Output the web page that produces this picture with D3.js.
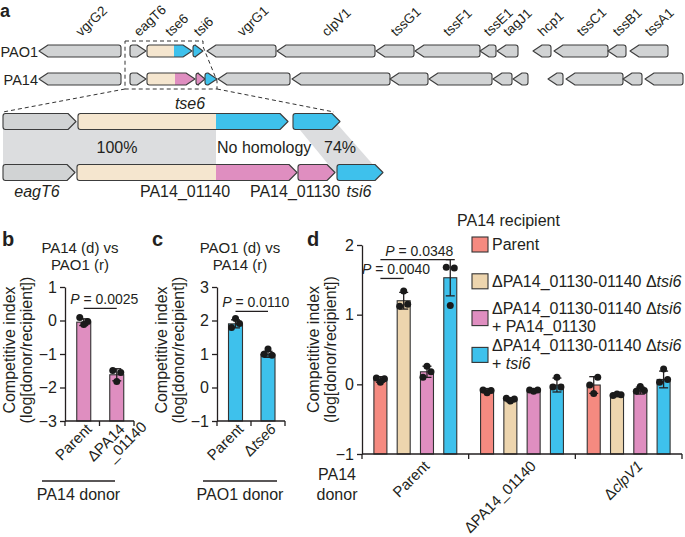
<!DOCTYPE html>
<html><head><meta charset="utf-8">
<script src="https://cdn.jsdelivr.net/npm/d3@7"></script>
<style>
body{margin:0;background:#fff}
svg{display:block;font-family:"Liberation Sans",Arial,Helvetica,sans-serif;}
</style></head><body>
<svg id="chart" width="685" height="537"></svg>
<script>
// ================= DATA =================
// Panel a: gene maps (coordinates in arbitrary kb-like units along the locus)
const pao1Genes = [
  {name:"vgrG2", start:3.9, end:12.1, strand:-1, colors:["gray"]},
  {name:"eagT6", start:13.0, end:14.6, strand:1, colors:["gray"]},
  {name:"tse6", start:14.7, end:19.2, strand:1, colors:["beige","blue"], split:17.4},
  {name:"tsi6", start:19.3, end:20.3, strand:1, colors:["blue"]},
  {name:"vgrG1", start:20.7, end:27.6, strand:-1, colors:["gray"]},
  {name:"clpV1", start:27.7, end:37.5, strand:-1, colors:["gray"]},
  {name:"tssG1", start:37.6, end:41.4, strand:-1, colors:["gray"]},
  {name:"tssF1", start:41.5, end:48.0, strand:-1, colors:["gray"]},
  {name:"tssE1", start:48.0, end:49.6, strand:-1, colors:["gray"]},
  {name:"tagJ1", start:49.7, end:51.8, strand:-1, colors:["gray"]},
  {name:"hcp1", start:53.3, end:55.1, strand:-1, colors:["gray"]},
  {name:"tssC1", start:55.4, end:60.8, strand:-1, colors:["gray"]},
  {name:"tssB1", start:60.8, end:62.6, strand:-1, colors:["gray"]},
  {name:"tssA1", start:63.0, end:66.8, strand:-1, colors:["gray"]}
];
const pa14Genes = [
  {name:"vgrG2", start:3.9, end:12.1, strand:-1, colors:["gray"]},
  {name:"eagT6", start:13.0, end:14.6, strand:1, colors:["gray"]},
  {name:"PA14_01140", start:14.7, end:19.5, strand:1, colors:["beige","pink"], split:17.5},
  {name:"PA14_01130", start:19.6, end:20.5, strand:1, colors:["pink"]},
  {name:"tsi6", start:20.5, end:21.7, strand:1, colors:["blue"]},
  {name:"vgrG1", start:21.8, end:29.0, strand:-1, colors:["gray"]},
  {name:"clpV1", start:29.2, end:39.0, strand:-1, colors:["gray"]},
  {name:"tssG1", start:39.0, end:42.8, strand:-1, colors:["gray"]},
  {name:"tssF1", start:42.9, end:49.2, strand:-1, colors:["gray"]},
  {name:"tssE1", start:49.3, end:51.2, strand:-1, colors:["gray"]},
  {name:"tagJ1", start:51.3, end:52.8, strand:-1, colors:["gray"]},
  {name:"hcp1", start:54.8, end:56.3, strand:-1, colors:["gray"]},
  {name:"tssC1", start:56.6, end:62.3, strand:-1, colors:["gray"]},
  {name:"tssB1", start:62.3, end:64.2, strand:-1, colors:["gray"]},
  {name:"tssA1", start:64.5, end:68.3, strand:-1, colors:["gray"]}
];
const strainNames = ["PAO1", "PA14"];
// expanded view of the tse6 / tsi6 region
const zoomTop = [
  {name:"eagT6", start:0.3, end:7.6, strand:1, colors:["gray"]},
  {name:"tse6", start:7.8, end:28.8, strand:1, colors:["beige","blue"], split:21.6},
  {name:"tsi6", start:29.3, end:34.0, strand:1, colors:["blue"]}
];
const zoomBottom = [
  {name:"eagT6", start:0.3, end:7.5, strand:1, colors:["gray"]},
  {name:"PA14_01140", start:7.7, end:29.7, strand:1, colors:["beige","pink"], split:21.6},
  {name:"PA14_01130", start:29.8, end:33.5, strand:1, colors:["pink"]},
  {name:"tsi6", start:33.7, end:38.3, strand:1, colors:["blue"]}
];
const homologyBlocks = [
  {top:[0.3, 21.6], bottom:[0.3, 21.6], label:"100%"},
  {top:[29.3, 33.5], bottom:[33.5, 38.0], label:"74%"}
];
const noHomologyLabel = "No homology";

// Panel b
const bTitle = ["PA14 (d) vs", "PAO1 (r)"];
const bLabels = [ [[["Parent",0]]], [[["ΔPA14",0]],[["_01140",0]]] ];
const bMeans = [-0.05, -1.62];
const bSD = [0.1, 0.18];
const bPoints = [[0.09, -0.03, -0.12], [-1.49, -1.55, -1.82]];
const bTicks = [1, 0, -1, -2, -3];
const bP = {from:0, to:1, y:0.36, label:"0.0025"};
const bDonor = "PA14 donor";

// Panel c
const cTitle = ["PAO1 (d) vs", "PA14 (r)"];
const cLabels = [ [[["Parent",0]]], [[["Δ",0],["tse6",1]]] ];
const cMeans = [1.9, 0.99];
const cSD = [0.12, 0.09];
const cPoints = [[1.79, 1.91, 2.06], [0.99, 0.96, 1.15]];
const cTicks = [3, 2, 1, 0, -1];
const cP = {from:0, to:1, y:2.27, label:"0.0110"};
const cDonor = "PAO1 donor";

// Panel d
const dGroups = [ [["Parent",0]], [["ΔPA14_01140",0]], [["Δ",0],["clpV1",1]] ];
const dSeriesNames = ["Parent", "ΔPA14_01130-01140 Δtsi6", "ΔPA14_01130-01140 Δtsi6 + PA14_01130", "ΔPA14_01130-01140 Δtsi6 + tsi6"];
// means[group][series]
const dMeans = [
  [0.07, 1.20, 0.18, 1.53],
  [-0.09, -0.22, -0.09, -0.01],
  [-0.01, -0.15, -0.09, 0.07]
];
const dSD = [
  [0.04, 0.12, 0.08, 0.26],
  [0.03, 0.03, 0.02, 0.10],
  [0.12, 0.02, 0.05, 0.12]
];
const dPoints = [
  [[0.09, 0.08, 0.03], [1.12, 1.15, 1.34], [0.10, 0.18, 0.26], [1.68, 1.67, 1.13]],
  [[-0.08, -0.09, -0.12], [-0.20, -0.21, -0.24], [-0.08, -0.08, -0.10], [-0.04, -0.04, 0.10]],
  [[-0.01, 0.10, -0.13], [-0.16, -0.15, -0.14], [-0.10, -0.09, -0.03], [0.03, 0.07, 0.22]]
];
const dTicks = [2, 1, 0, -1];
const dP = [
  {group:0, from:0, to:1, y:1.52, label:"0.0040"},
  {group:0, from:0, to:3, y:1.79, label:"0.0348"}
];
const legendTitle = "PA14 recipient";
const legendEntries = [
  [[["Parent",0]]],
  [[["ΔPA14_01130-01140 Δ",0],["tsi6",1]]],
  [[["ΔPA14_01130-01140 Δ",0],["tsi6",1]], [["+ PA14_01130",0]]],
  [[["ΔPA14_01130-01140 Δ",0],["tsi6",1]], [["+ ",0],["tsi6",1]]]
];
const dDonor = ["PA14", "donor"];
const yTitle = ["Competitive index", "(log[donor/recipient])"];

// ================= STYLE =================
const COL = {gray:"#d1d3d4", beige:"#f5e6cf", blue:"#3ec1ec", pink:"#df8ec0"};
const seriesColors = ["#f58a80", "#edd5ae", "#df8ec0", "#3ec1ec"];
const INK = "#231f20";
const svg = d3.select("#chart");

function addRich(sel, segs) {
  segs.forEach(([t, it]) => {
    sel.append("tspan").text(t).attr("font-style", it ? "italic" : "normal");
  });
}

// ================= PANEL a =================
function genePath(x0, x1, yc, h, strand, head) {
  const hl = Math.min(head, (x1 - x0) * 0.8);
  const r = 2.5;
  const t = yc - h / 2, b = yc + h / 2;
  if (strand > 0) {
    return `M${x0 + r},${t}L${x1 - hl},${t}L${x1},${yc}L${x1 - hl},${b}L${x0 + r},${b}Q${x0},${b} ${x0},${b - r}L${x0},${t + r}Q${x0},${t} ${x0 + r},${t}Z`;
  }
  return `M${x1 - r},${t}L${x0 + hl},${t}L${x0},${yc}L${x0 + hl},${b}L${x1 - r},${b}Q${x1},${b} ${x1},${b - r}L${x1},${t + r}Q${x1},${t} ${x1 - r},${t}Z`;
}
let clipId = 0;
function drawGenes(g, genes, xs, yc, h, head) {
  genes.forEach(gn => {
    const x0 = xs(gn.start), x1 = xs(gn.end);
    const p = genePath(x0, x1, yc, h, gn.strand, head);
    const id = "gclip" + (clipId++);
    g.append("clipPath").attr("id", id).append("path").attr("d", p);
    const gg = g.append("g").attr("clip-path", `url(#${id})`);
    if (gn.split !== undefined) {
      const xm = xs(gn.split);
      gg.append("rect").attr("x", x0 - 1).attr("y", yc - h).attr("width", xm - x0 + 1).attr("height", 2 * h).attr("fill", COL[gn.colors[0]]);
      gg.append("rect").attr("x", xm).attr("y", yc - h).attr("width", x1 - xm + 1).attr("height", 2 * h).attr("fill", COL[gn.colors[1]]);
    } else {
      gg.append("rect").attr("x", x0 - 1).attr("y", yc - h).attr("width", x1 - x0 + 2).attr("height", 2 * h).attr("fill", COL[gn.colors[0]]);
    }
    g.append("path").attr("d", p).attr("fill", "none").attr("stroke", "#3c3c3c").attr("stroke-width", 1.1).attr("stroke-linejoin", "round");
  });
}

const ga = svg.append("g");
const xa = d3.scaleLinear().domain([0, 68.5]).range([0, 685]);
const rowY = [51, 79];
ga.append("text").text("a").attr("x", 0).attr("y", 17).attr("font-size", 18).attr("font-weight", "bold").attr("fill", INK);
strainNames.forEach((s, i) => {
  ga.append("text").text(s).attr("x", 38).attr("y", rowY[i] + 5.5).attr("text-anchor", "end").attr("font-size", 14.5).attr("fill", INK);
});
// dashed selection box + guide lines
const xz = d3.scaleLinear().domain([0, 40]).range([0, 400]);
const boxL = xa(pao1Genes[1].start) - 5, boxR1 = xa(pao1Genes[3].end), boxR2 = xa(pa14Genes[4].end);
ga.append("path")
  .attr("d", `M${boxL},41L${boxR1},41L${boxR1},46.5L${boxR2},81L${boxR2},89L${boxL},89Z`)
  .attr("fill", "none").attr("stroke", "#333").attr("stroke-width", 1).attr("stroke-dasharray", "4,3");
ga.append("line").attr("x1", boxL).attr("y1", 89).attr("x2", xz(zoomTop[0].start)).attr("y2", 112)
  .attr("stroke", "#333").attr("stroke-dasharray", "4,3");
ga.append("line").attr("x1", boxR2).attr("y1", 89).attr("x2", xz(33.4)).attr("y2", 112)
  .attr("stroke", "#333").attr("stroke-dasharray", "4,3");

drawGenes(ga, pao1Genes, xa, rowY[0], 12, 9);
drawGenes(ga, pa14Genes, xa, rowY[1], 12, 9);
pao1Genes.forEach(gn => {
  const cx = xa((gn.start + gn.end) / 2);
  ga.append("text").text(gn.name).attr("font-size", 13.5).attr("fill", INK)
    .attr("transform", `translate(${cx + 1},37) rotate(-43)`);
});

// expanded view
const zTopY = 121.5, zBotY = 172.5, zH = 16;
homologyBlocks.forEach(b => {
  ga.append("path")
    .attr("d", `M${xz(b.top[0])},${zTopY}L${xz(b.top[1])},${zTopY}L${xz(b.bottom[1])},${zBotY}L${xz(b.bottom[0])},${zBotY}Z`)
    .attr("fill", "#dcdddf");
});
drawGenes(ga, zoomTop, xz, zTopY, zH, 8);
drawGenes(ga, zoomBottom, xz, zBotY, zH, 8);
ga.append("text").text(zoomTop[1].name).attr("x", xz(19.0)).attr("y", 109).attr("text-anchor", "middle")
  .attr("font-style", "italic").attr("font-size", 16).attr("fill", INK);
ga.append("text").text(homologyBlocks[0].label).attr("x", xz(11.7)).attr("y", 153).attr("text-anchor", "middle").attr("font-size", 16).attr("fill", INK);
ga.append("text").text(noHomologyLabel).attr("x", xz(21.7)).attr("y", 153).attr("font-size", 16).attr("fill", INK);
ga.append("text").text(homologyBlocks[1].label).attr("x", xz(34.0)).attr("y", 153).attr("text-anchor", "middle").attr("font-size", 16).attr("fill", INK);
const zLabs = [
  {t:zoomBottom[0].name, x:3.7, it:1},
  {t:zoomBottom[1].name, x:18.5, it:0},
  {t:zoomBottom[2].name, x:29.5, it:0},
  {t:zoomBottom[3].name, x:35.9, it:1}
];
zLabs.forEach(l => {
  ga.append("text").text(l.t).attr("x", xz(l.x)).attr("y", 197).attr("text-anchor", "middle")
    .attr("font-size", 16).attr("font-style", l.it ? "italic" : "normal").attr("fill", INK);
});

// ================= helpers for bar panels =================
function styleAxis(sel) {
  sel.select(".domain").attr("stroke", INK).attr("stroke-width", 1.3);
  sel.selectAll(".tick line").attr("stroke", INK).attr("stroke-width", 1.3);
  sel.selectAll(".tick text").attr("font-size", 16).attr("fill", INK).attr("font-family", '"Liberation Sans", Arial, sans-serif');
}
function yAxisTitle(g, xBase, yMid) {
  yTitle.forEach((t, i) => {
    g.append("text").text(t).attr("text-anchor", "middle").attr("font-size", 16).attr("fill", INK)
      .attr("transform", `translate(${xBase + i * 17},${yMid}) rotate(-90)`);
  });
}
function drawErr(g, cx, y, m, sd, cap) {
  g.append("line").attr("x1", cx).attr("x2", cx).attr("y1", y(m - sd)).attr("y2", y(m + sd)).attr("stroke", INK).attr("stroke-width", 1.3);
  [m - sd, m + sd].forEach(v => {
    g.append("line").attr("x1", cx - cap / 2).attr("x2", cx + cap / 2).attr("y1", y(v)).attr("y2", y(v)).attr("stroke", INK).attr("stroke-width", 1.3);
  });
}
const jitter = [-4, 4, 0];
function drawPoints(g, cx, y, pts) {
  pts.forEach((v, k) => {
    g.append("circle").attr("cx", cx + jitter[k]).attr("cy", y(v)).attr("r", 3.5).attr("fill", "#1a1a1a");
  });
}
function pAnnot(g, x1, x2, yy, label) {
  g.append("line").attr("x1", x1).attr("x2", x2).attr("y1", yy).attr("y2", yy).attr("stroke", INK).attr("stroke-width", 1.3);
  const t = g.append("text").attr("x", (x1 + x2) / 2 + 4).attr("y", yy - 4).attr("text-anchor", "middle").attr("font-size", 14).attr("fill", INK);
  addRich(t, [["P", 1], [" = " + label, 0]]);
}
function rotLabel(g, x, y, lines, fs) {
  const t = g.append("text").attr("text-anchor", "end").attr("font-size", fs).attr("fill", INK)
    .attr("transform", `translate(${x},${y}) rotate(-45)`);
  lines.forEach((ln, i) => {
    const line = t.append("tspan").attr("x", i ? 17 : 0).attr("dy", i ? 14 : 0);
    ln.forEach(([s, it]) => line.append("tspan").text(s).attr("font-style", it ? "italic" : "normal"));
  });
}

function simplePanel(o) {
  const g = svg.append("g");
  const x = d3.scaleBand().domain(o.means.map((_, i) => i)).range(o.xr);
  const y = d3.scaleLinear().domain(o.yd).range([421, 287]);
  const bw = 14;
  const cxs = o.means.map((_, i) => x(i) + x.bandwidth() / 2 + (i === 0 ? 1.5 : 0));
  o.means.forEach((m, i) => {
    g.append("rect").attr("x", cxs[i] - bw / 2).attr("width", bw).attr("y", y(m)).attr("height", y(o.yd[0]) - y(m))
      .attr("fill", o.color).attr("stroke", "#333").attr("stroke-width", 1.1);
  });
  o.means.forEach((m, i) => drawErr(g, cxs[i], y, m, o.sd[i], 9));
  o.points.forEach((p, i) => drawPoints(g, cxs[i], y, p));
  // y axis
  const ya = g.append("g").attr("transform", `translate(${o.xr[0]},0)`)
    .call(d3.axisLeft(y).tickValues(o.ticks).tickSize(5).tickPadding(3).tickSizeOuter(0).tickFormat(d3.format("d")));
  styleAxis(ya);
  // x axis with boundary ticks
  g.append("line").attr("x1", o.xr[0]).attr("x2", o.xr[1]).attr("y1", 421).attr("y2", 421).attr("stroke", INK).attr("stroke-width", 1.3);
  const bounds = o.means.map((_, i) => x(i)).concat([o.xr[1]]);
  bounds.forEach(b => g.append("line").attr("x1", b).attr("x2", b).attr("y1", 421).attr("y2", 426).attr("stroke", INK).attr("stroke-width", 1.3));
  o.labels.forEach((lines, i) => rotLabel(g, cxs[i] + 9, 430, lines, 15));
  // title
  o.title.forEach((t, i) => g.append("text").text(t).attr("x", o.titleX).attr("y", 253 + i * 16.5).attr("text-anchor", "middle").attr("font-size", 15).attr("fill", INK));
  yAxisTitle(g, o.yTitleX, 350);
  g.append("text").text(o.letter).attr("x", o.letterX).attr("y", 246).attr("font-size", 20).attr("font-weight", "bold").attr("fill", INK);
  pAnnot(g, cxs[o.p.from], cxs[o.p.to], y(o.p.y), o.p.label);
  g.append("line").attr("x1", o.donorLine[0]).attr("x2", o.donorLine[1]).attr("y1", 481).attr("y2", 481).attr("stroke", INK).attr("stroke-width", 1.3);
  g.append("text").text(o.donor).attr("x", (o.donorLine[0] + o.donorLine[1]) / 2).attr("y", 500).attr("text-anchor", "middle").attr("font-size", 16).attr("fill", INK);
}

simplePanel({letter:"b", letterX:2, title:bTitle, titleX:80, xr:[65, 134], yd:[-3, 1], ticks:bTicks,
  means:bMeans, sd:bSD, points:bPoints, color:COL.pink, labels:bLabels, p:bP, yTitleX:15,
  donor:bDonor, donorLine:[42, 115]});
simplePanel({letter:"c", letterX:152, title:cTitle, titleX:240, xr:[217, 285], yd:[-1, 3], ticks:cTicks,
  means:cMeans, sd:cSD, points:cPoints, color:COL.blue, labels:cLabels, p:cP, yTitleX:167,
  donor:cDonor, donorLine:[203, 277]});

// ================= PANEL d =================
const gd = svg.append("g");
const xd = d3.scaleBand().domain(dGroups.map((_, i) => i)).range([362, 682]);
const xin = d3.scalePoint().domain(d3.range(dSeriesNames.length)).range([0, xd.bandwidth()]).padding(0.79);
const yd = d3.scaleLinear().domain([-1, 2]).range([454, 245]);
const dbw = 13;
dMeans.forEach((grp, gi) => {
  grp.forEach((m, si) => {
    const cx = xd(gi) + xin(si);
    gd.append("rect").attr("x", cx - dbw / 2).attr("width", dbw).attr("y", yd(m)).attr("height", yd(-1) - yd(m))
      .attr("fill", seriesColors[si]).attr("stroke", "#333").attr("stroke-width", 1.1);
    drawErr(gd, cx, yd, m, dSD[gi][si], 9);
    drawPoints(gd, cx, yd, dPoints[gi][si]);
  });
});
const yaD = gd.append("g").attr("transform", "translate(362,0)")
  .call(d3.axisLeft(yd).tickValues(dTicks).tickSize(5).tickPadding(3).tickSizeOuter(0).tickFormat(d3.format("d")));
styleAxis(yaD);
gd.append("line").attr("x1", 362).attr("x2", 682).attr("y1", 454).attr("y2", 454).attr("stroke", INK).attr("stroke-width", 1.3);
dGroups.map((_, i) => xd(i)).concat([682]).forEach(b =>
  gd.append("line").attr("x1", b).attr("x2", b).attr("y1", 454).attr("y2", 459).attr("stroke", INK).attr("stroke-width", 1.3));
dGroups.forEach((lab, gi) => rotLabel(gd, xd(gi) + xd.bandwidth() / 2 + 15, 467, [lab], 15));
yAxisTitle(gd, 319, 349.5);
gd.append("text").text("d").attr("x", 307).attr("y", 246).attr("font-size", 20).attr("font-weight", "bold").attr("fill", INK);
dP.forEach(p => pAnnot(gd, xd(p.group) + xin(p.from), xd(p.group) + xin(p.to), yd(p.y), p.label));
dDonor.forEach((t, i) => gd.append("text").text(t).attr("x", 337).attr("y", 480 + i * 20).attr("text-anchor", "middle").attr("font-size", 16).attr("fill", INK));

// legend
const lg = gd.append("g");
lg.append("text").text(legendTitle).attr("x", 457).attr("y", 226).attr("font-size", 16).attr("fill", INK);
legendEntries.forEach((lines, i) => {
  const cy = 244.5 + i * 36.8;
  lg.append("rect").attr("x", 472).attr("y", cy - 7.5).attr("width", 16).attr("height", 15)
    .attr("fill", seriesColors[i]).attr("stroke", "#333").attr("stroke-width", 1.1);
  const b0 = lines.length === 1 ? cy + 5.5 : cy - 4;
  lines.forEach((ln, k) => {
    const t = lg.append("text").attr("x", 492).attr("y", b0 + k * 18).attr("font-size", 16).attr("fill", INK);
    addRich(t, ln);
  });
});
</script>
</body></html>
